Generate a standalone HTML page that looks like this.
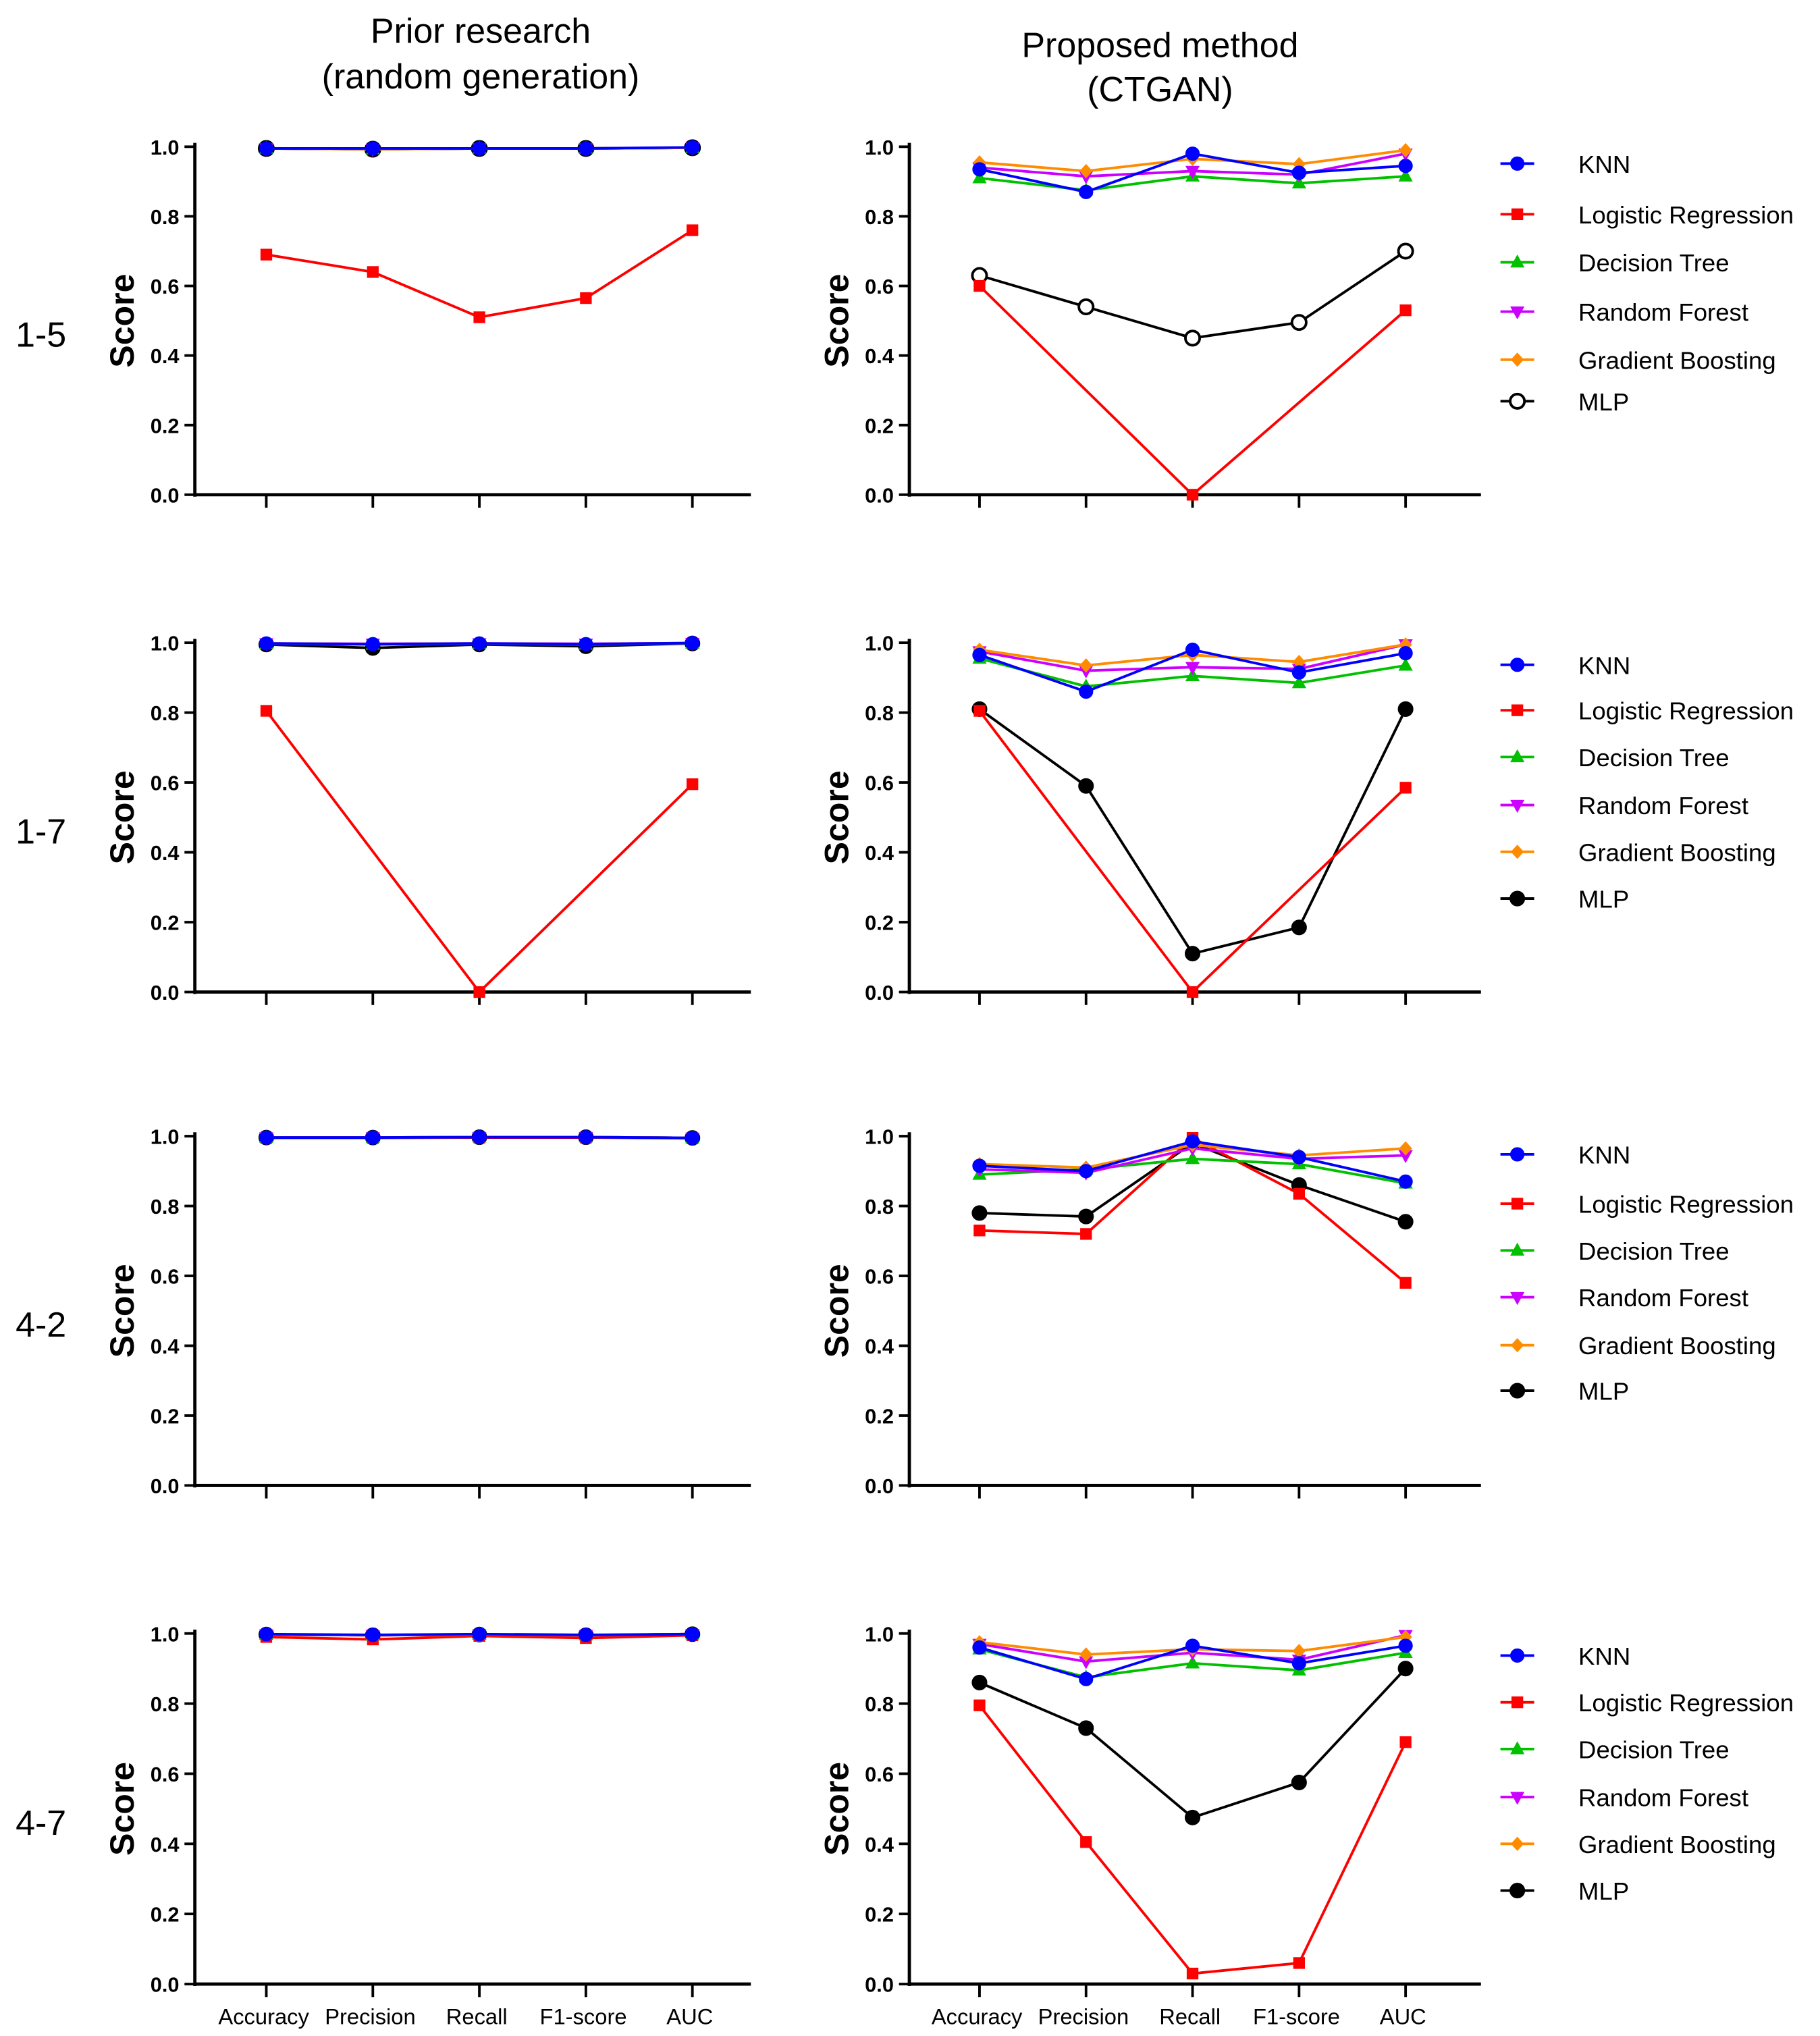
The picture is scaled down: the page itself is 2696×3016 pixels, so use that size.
<!DOCTYPE html>
<html><head><meta charset="utf-8"><style>
html,body{margin:0;padding:0;background:#fff}
svg{display:block}
text{font-family:"Liberation Sans","DejaVu Sans",sans-serif}
</style></head><body>
<svg id="fig" width="2696" height="3016" viewBox="0 0 1401 1568" preserveAspectRatio="none" xmlns="http://www.w3.org/2000/svg"></svg>
<script>
const metrics = ["Accuracy","Precision","Recall","F1-score","AUC"];
const models = ["KNN","Logistic Regression","Decision Tree","Random Forest","Gradient Boosting","MLP"];
const yTicks = [0.0,0.2,0.4,0.6,0.8,1.0];
const rowLabels = ["1-5","1-7","4-2","4-7"];
// prior research (left)
const p15_knn=[0.995,0.995,0.995,0.995,0.998], p15_lr=[0.69,0.64,0.51,0.565,0.76], p15_dt=[0.995,0.993,0.995,0.995,0.997], p15_rf=[0.995,0.993,0.995,0.995,0.997], p15_gb=[0.995,0.993,0.995,0.995,0.997], p15_mlp=[0.995,0.993,0.995,0.995,0.997];
const p17_knn=[0.998,0.996,0.998,0.996,0.999], p17_lr=[0.805,null,0.0,null,0.595], p17_dt=[0.997,0.995,0.997,0.995,0.998], p17_rf=[0.998,0.997,0.998,0.997,0.999], p17_gb=[0.998,0.996,0.998,0.996,0.999], p17_mlp=[0.995,0.985,0.995,0.99,0.998];
const p42_knn=[0.996,0.996,0.997,0.997,0.995], p42_lr=[0.995,0.995,0.996,0.996,0.994], p42_dt=[0.996,0.996,0.997,0.997,0.995], p42_rf=[0.996,0.996,0.997,0.997,0.995], p42_gb=[0.996,0.996,0.997,0.997,0.995], p42_mlp=[0.996,0.996,0.997,0.997,0.995];
const p47_knn=[0.998,0.996,0.998,0.996,0.998], p47_lr=[0.99,0.983,0.993,0.987,0.995], p47_dt=[0.997,0.995,0.997,0.995,0.998], p47_rf=[0.997,0.995,0.997,0.995,0.998], p47_gb=[0.997,0.995,0.997,0.995,0.998], p47_mlp=[0.997,0.995,0.997,0.995,0.998];
// proposed (right)
const c15_knn=[0.935,0.87,0.98,0.925,0.945], c15_lr=[0.60,null,0.0,null,0.53], c15_dt=[0.91,0.875,0.915,0.895,0.915], c15_rf=[0.94,0.915,0.93,0.92,0.98], c15_gb=[0.955,0.93,0.965,0.95,0.99], c15_mlp=[0.63,0.54,0.45,0.495,0.70];
const c17_knn=[0.965,0.86,0.98,0.915,0.97], c17_lr=[0.805,null,0.0,null,0.585], c17_dt=[0.955,0.875,0.905,0.885,0.935], c17_rf=[0.975,0.92,0.93,0.925,0.995], c17_gb=[0.98,0.935,0.965,0.945,0.995], c17_mlp=[0.81,0.59,0.11,0.185,0.81];
const c42_knn=[0.915,0.9,0.985,0.94,0.87], c42_lr=[0.73,0.72,0.995,0.835,0.58], c42_dt=[0.89,0.905,0.935,0.92,0.865], c42_rf=[0.905,0.895,0.965,0.935,0.945], c42_gb=[0.92,0.91,0.975,0.945,0.965], c42_mlp=[0.78,0.77,0.98,0.86,0.755];
const c47_knn=[0.96,0.87,0.965,0.915,0.965], c47_lr=[0.795,0.405,0.03,0.06,0.69], c47_dt=[0.955,0.875,0.915,0.895,0.945], c47_rf=[0.97,0.92,0.945,0.925,0.995], c47_gb=[0.975,0.94,0.955,0.95,0.99], c47_mlp=[0.86,0.73,0.475,0.575,0.90];

const leftData=[[p15_knn,p15_lr,p15_dt,p15_rf,p15_gb,p15_mlp],[p17_knn,p17_lr,p17_dt,p17_rf,p17_gb,p17_mlp],[p42_knn,p42_lr,p42_dt,p42_rf,p42_gb,p42_mlp],[p47_knn,p47_lr,p47_dt,p47_rf,p47_gb,p47_mlp]];
const rightData=[[c15_knn,c15_lr,c15_dt,c15_rf,c15_gb,c15_mlp],[c17_knn,c17_lr,c17_dt,c17_rf,c17_gb,c17_mlp],[c42_knn,c42_lr,c42_dt,c42_rf,c42_gb,c42_mlp],[c47_knn,c47_lr,c47_dt,c47_rf,c47_gb,c47_mlp]];

const colors=["#0000ff","#ff0000","#00c000","#cc00ff","#ff8c00","#000000"];
const svg=document.getElementById('fig');
const NS="http://www.w3.org/2000/svg";
function el(tag,attrs,parent){const e=document.createElementNS(NS,tag);for(const k in attrs)e.setAttribute(k,attrs[k]);(parent||svg).appendChild(e);return e;}
function txt(s,attrs,parent){const t=el('text',attrs,parent);t.textContent=s;return t;}

const rowsY=[[113,381],[495,764],[875,1144],[1258,1528]];
const legendY=[[126,165,202,240,277,309],[512,547,583,620,656,692],[889,927,963,999,1036,1071],[1275,1311,1347,1384,1420,1456]];
const panels=[{x0:150,x1:578,first:205,step:82,scoreX:95},{x0:700,x1:1140,first:754,step:82,scoreX:645}];

function marker(g,m,x,y,open){
  const c=colors[m];let e;
  if(m===0||m===5){e=el('circle',{cx:x,cy:y,r:m===5?5.5:5,fill:open?'#fff':c,stroke:c,'stroke-width':open?2:1},g);}
  else if(m===1){e=el('rect',{x:x-4.5,y:y-4.5,width:9,height:9,fill:c},g);}
  else if(m===2){e=el('polygon',{points:`${x},${y-6} ${x-5.5},${y+4} ${x+5.5},${y+4}`,fill:c},g);}
  else if(m===3){e=el('polygon',{points:`${x},${y+6} ${x-5.5},${y-4} ${x+5.5},${y-4}`,fill:c},g);}
  else {e=el('polygon',{points:`${x},${y-5.5} ${x+5},${y} ${x},${y+5.5} ${x-5},${y}`,fill:c},g);}
  
  
}

// titles
txt("Prior research",{x:370,y:33,'text-anchor':'middle','font-size':27,fill:'#000',});
txt("(random generation)",{x:370,y:68,'text-anchor':'middle','font-size':27,fill:'#000',});
txt("Proposed method",{x:893,y:44,'text-anchor':'middle','font-size':27,fill:'#000',});
txt("(CTGAN)",{x:893,y:78,'text-anchor':'middle','font-size':27,fill:'#000',});

rowLabels.forEach((lab,r)=>{
  const [yT,yB]=rowsY[r];
  const ys=v=>yB-(yB-yT)*v;
  txt(lab,{x:12,y:(yT+yB)/2+20,'font-size':27,fill:'#000',});
  panels.forEach((p,pi)=>{
    const g=el('g',{});
    const xs=i=>p.first+p.step*i;
    el('line',{x1:p.x0,y1:yT-3,x2:p.x0,y2:yB+1.5,stroke:'#000','stroke-width':2.5,},g);
    el('line',{x1:p.x0-1,y1:yB,x2:p.x1,y2:yB,stroke:'#000','stroke-width':2.5,},g);
    yTicks.forEach(v=>{
      el('line',{x1:p.x0-8,y1:ys(v),x2:p.x0,y2:ys(v),stroke:'#000','stroke-width':2},g);
      txt(v.toFixed(1),{x:p.x0-12,y:ys(v)+6,'text-anchor':'end','font-size':16,'font-weight':'bold',fill:'#000',},g);
    });
    metrics.forEach((m,i)=>{
      el('line',{x1:xs(i),y1:yB,x2:xs(i),y2:yB+10,stroke:'#000','stroke-width':2},g);
      if(r===3) txt(m,{x:xs(i)-2,y:1559,'text-anchor':'middle','font-size':17,fill:'#000',},g);
    });
    const sy=(yT+yB)/2;
    txt("Score",{x:p.scoreX+8,y:sy,transform:`rotate(-90 ${p.scoreX+8} ${sy})`,'text-anchor':'middle','font-size':26,'font-weight':'bold','font-family':'"Liberation Serif",serif',fill:'#000',},g);
    const data=(pi?rightData:leftData)[r];
    const order=[5,1,2,3,4,0];
    order.forEach(m=>{
      const vals=data[m];
      const pts=[];vals.forEach((v,i)=>{if(v!==null)pts.push([xs(i),ys(v)]);});
      const sg=el('g',{},g);
      el('polyline',{points:pts.map(q=>q.join(',')).join(' '),fill:'none',stroke:colors[m],'stroke-width':2},sg);
      pts.forEach(q=>marker(sg,m,q[0],q[1],m===5&&r===0));
    });
    if(pi===1){
      const lg=el('g',{});
      models.forEach((name,m)=>{
        const y=legendY[r][m];
        const eg=el('g',{},lg);
        el('line',{x1:1155,y1:y,x2:1181,y2:y,stroke:colors[m],'stroke-width':2},eg);
        marker(eg,m,1168,y,m===5&&r===0);
        txt(name,{x:1215,y:y+7,'font-size':19,fill:'#000'},eg);
      });
    }
  });
});
</script>
</body></html>
